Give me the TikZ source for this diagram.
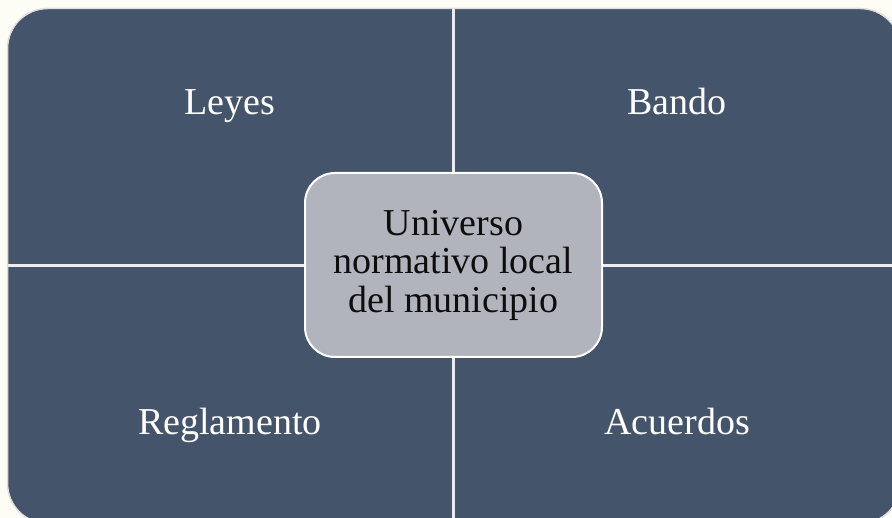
\documentclass[tikz,border=0pt]{standalone}
\usepackage{fontspec}
\setmainfont{Liberation Serif}
\definecolor{quadblue}{RGB}{68,84,106}
\definecolor{hubgray}{RGB}{177,180,188}
\definecolor{paper}{RGB}{253,253,246}
\definecolor{rim}{RGB}{222,222,222}
\definecolor{seam}{RGB}{236,236,236}
\begin{document}
\begin{tikzpicture}[x=1pt,y=-1pt,
	quadlabel/.style={text=white, anchor=base, inner sep=0pt, font=\fontsize{38}{38.5}\selectfont},
	hub/.style={draw=white, line width=2pt, fill=hubgray, rounded corners=30pt,
		minimum width=297pt, minimum height=184pt, align=center, text=black!95,
		font=\fontsize{38}{38.5}\selectfont}]
	\useasboundingbox[fill=paper] (0,0) rectangle (892,518);
	% quadrants
	\fill[quadblue, rounded corners=40pt] (8,9) rectangle (900,523);
	\draw[rim, line width=1.5pt, rounded corners=40pt] (7.5,8.5) rectangle (900.5,523.5);
	\draw[seam, line width=3pt] (453.5,9) -- (453.5,523);
	\draw[seam, line width=3pt] (8,265.5) -- (900,265.5);
	% labels
	\node[quadlabel] (leyes) at (230,115) {Leyes};
	\node[quadlabel] (bando) at (677,115) {Bando};
	\node[quadlabel] (reglamento) at (230,435) {Reglamento};
	\node[quadlabel] (acuerdos) at (677,435) {Acuerdos};
	% center
	\node[hub] (universo) at (453.5,265) {Universo\\normativo local\\del municipio};
\end{tikzpicture}
\end{document}
